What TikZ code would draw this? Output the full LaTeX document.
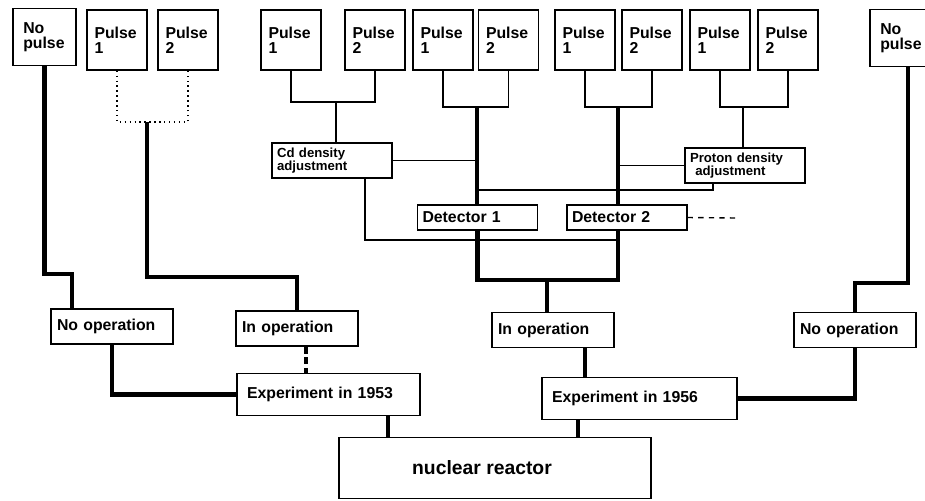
\documentclass[tikz,border=0pt]{standalone}
\usepackage{fontspec}
\setmainfont{Liberation Sans}
\usetikzlibrary{calc}

\begin{document}
\begin{tikzpicture}[
  x=0.02cm, y=-0.02cm,
  cellbox/.style={draw, line width=0.8pt, align=left, inner ysep=1pt, font=\fontsize{9}{9}\selectfont\bfseries},
  pulsebox/.style={cellbox, text width=0.9cm, inner xsep=0.15cm, minimum height=1.2cm, font=\fontsize{9}{8.5}\selectfont\bfseries},
  nopulse/.style={pulsebox, text width=0.85cm, inner xsep=0.205cm, minimum height=1.14cm},
  adjbox/.style={cellbox, text width=2.2cm, inner xsep=0.1cm, minimum height=0.7cm, font=\fontsize{7.5}{7.5}\selectfont\bfseries},
  detbox/.style={cellbox, text width=2.2cm, inner xsep=0.1cm, minimum height=0.5cm},
  opbox/.style={cellbox, text width=2.2cm, inner xsep=0.12cm, minimum height=0.7cm},
  expbox/.style={cellbox, inner xsep=0.2cm, minimum height=0.84cm},
  link/.style={line width=0.8pt},
  heavy/.style={line width=2.4pt}
]
  \clip (0,0) rectangle (925,500);

  % Pulses
  \node[nopulse] (np1) at (44.5,37) {No\\pulse};
  \foreach \n/\x/\lab in {pa1/117/1, pa2/188/2, pb1/291/1, pb2/375/2, pc1/443/1, pc2/508.5/2, pd1/585/1, pd2/652/2, pe1/720/1, pe2/788/2} {
    \node[pulsebox] (\n) at (\x,40) {Pulse\\\lab};
  }
  \node[nopulse] (np2) at (901.5,38) {No\\pulse};

  % Adjustments and detectors
  \node[adjbox] (cd) at (332,160.5) {Cd density\\adjustment};
  \node[adjbox] (pr) at (745,165.5) {Proton density\\\hspace{3pt}adjustment};
  \node[detbox] (d1) at (477.5,217.5) {Detector 1};
  \node[detbox] (d2) at (627,217.5) {Detector 2};

  % Reactor states
  \node[opbox] (na) at (112,326.5) {No operation};
  \node[opbox] (ia) at (297,328.5) {In operation};
  \node[opbox] (ib) at (553,330) {In operation};
  \node[opbox] (nb) at (855,330) {No operation};

  % Experiments
  \node[expbox, text width=3.26cm] (e53) at (328.5,394.5) {Experiment in 1953};
  \node[expbox, text width=3.5cm] (e56) at (639.5,398.5) {Experiment in 1956};
  \node[draw, line width=0.8pt, minimum width=6.24cm, minimum height=1.22cm,
        font=\fontsize{11}{11}\selectfont\bfseries] (re) at (495,468) {nuclear reactor\hspace*{0.52cm}};

  % Junctions
  \coordinate (ka) at (72,274);
  \coordinate (kb) at (147,122);
  \coordinate (kc) at (297,277);
  \coordinate (jb) at (336,102);
  \coordinate (jc) at (477,107);
  \coordinate (jd) at (618,107);
  \coordinate (je) at (743,107);
  \coordinate (jm) at (547,280);
  \coordinate (kd) at (855,283);
  \coordinate (kf) at (735,218);
  \coordinate (kg) at (477,190);
  \coordinate (kh) at (618,240);
  \coordinate (xc) at (365,0);
  \coordinate (xp) at (713,0);
  \coordinate (xi) at (306,0);
  \coordinate (xj) at (585,0);
  \coordinate (xl) at (388,0);
  \coordinate (xr) at (578,0);
  \coordinate (xn) at (908,0);

  % Thin links
  \draw[link] (pb1.south) |- (jb) -| (pb2.south);
  \draw[link] (jb) -- (jb |- cd.north);
  \draw[link] (pc1.south) |- (jc) -| (pc2.south);
  \draw[link] (pd1.south) |- (jd) -| (pd2.south);
  \draw[link] (pe1.south) |- (je) -| (pe2.south);
  \draw[link] (je) -- (je |- pr.north);
  \draw[link] (cd.east) -- (cd.east -| jc);
  \draw[link] (pr.west) -- (pr.west -| jd);
  \draw[link] (xp |- pr.south) |- (kg);
  \draw[link] (xc |- cd.south) |- (kh);
  \draw[link, dashed] (d2.east) -- (kf);
  \draw[link, dotted] (pa1.south) |- (kb) -| (pa2.south);

  % Heavy links
  \draw[heavy] (np1.south) |- (ka) -- (ka |- na.north);
  \draw[heavy] (kb) |- (kc) -- (ia.north);
  \draw[heavy] (jc) -- (jc |- d1.north);
  \draw[heavy] (jd) -- (jd |- d2.north);
  \draw[heavy] (d1.south) |- (jm) -| (jd |- d2.south);
  \draw[heavy] (jm) -- (jm |- ib.north);
  \draw[heavy, dash pattern=on 4pt off 2pt] (xi |- ia.south) -- (xi |- e53.north);
  \draw[heavy] (na.south) |- (e53.west);
  \draw[heavy] (xj |- ib.south) -- (xj |- e56.north);
  \draw[heavy] (xn |- np2.south) |- (kd) -- (nb.north);
  \draw[heavy] (nb.south) |- (e56.east);
  \draw[heavy] (xl |- e53.south) -- (xl |- re.north);
  \draw[heavy] (xr |- e56.south) -- (xr |- re.north);
\end{tikzpicture}
\end{document}
